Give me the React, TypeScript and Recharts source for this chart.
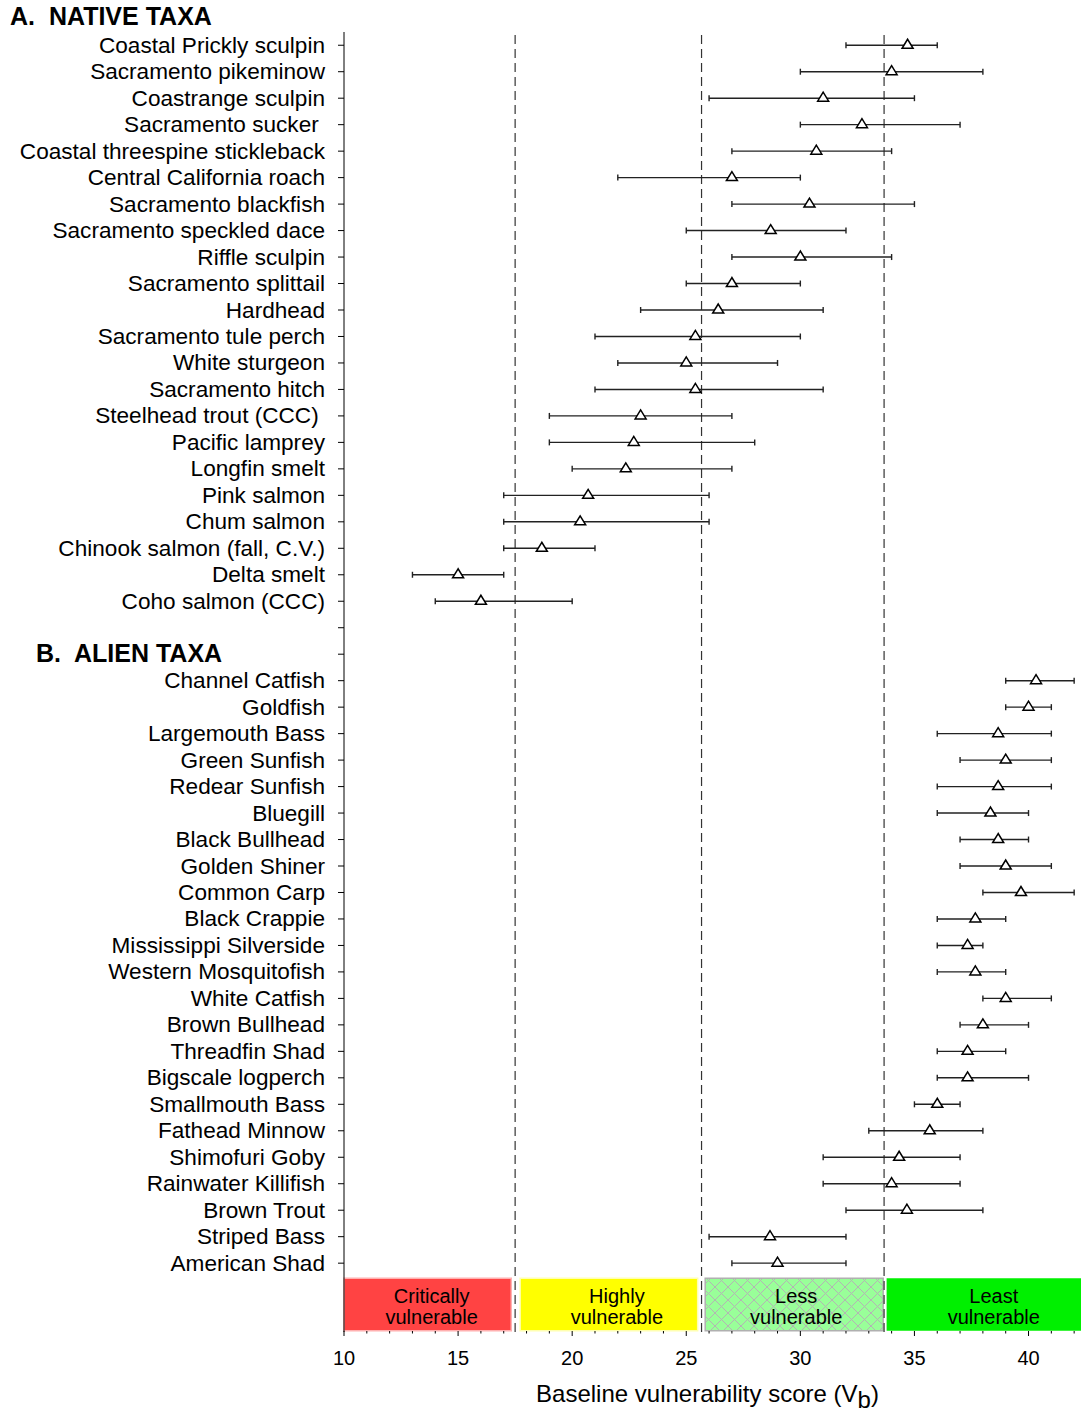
import React from "react";
import {
  ScatterChart,
  Scatter,
  XAxis,
  YAxis,
  ErrorBar,
  ReferenceLine,
  ReferenceArea,
} from "recharts";

const FONT = "'Liberation Sans', Arial, Helvetica, sans-serif";

// ---------- DATA ----------
const nativeNames = [
  "Coastal Prickly sculpin",
  "Sacramento pikeminow",
  "Coastrange sculpin",
  "Sacramento sucker\u00A0",
  "Coastal threespine stickleback",
  "Central California roach",
  "Sacramento blackfish",
  "Sacramento speckled dace",
  "Riffle sculpin",
  "Sacramento splittail",
  "Hardhead",
  "Sacramento tule perch",
  "White sturgeon",
  "Sacramento hitch",
  "Steelhead trout (CCC)\u00A0",
  "Pacific lamprey",
  "Longfin smelt",
  "Pink salmon",
  "Chum salmon",
  "Chinook salmon (fall, C.V.)",
  "Delta smelt",
  "Coho salmon (CCC)",
];
const nativeScore = [34.7, 34.0, 31.0, 32.7, 30.7, 27.0, 30.4, 28.7, 30.0, 27.0, 26.4, 25.4, 25.0, 25.4, 23.0, 22.7, 22.35, 20.7, 20.35, 18.67, 15.0, 16.0];
const nativeLow = [32, 30, 26, 30, 27, 22, 27, 25, 27, 25, 23, 21, 22, 21, 19, 19, 20, 17, 17, 17, 13, 14];
const nativeHigh = [36, 38, 35, 37, 34, 30, 35, 32, 34, 30, 31, 30, 29, 31, 27, 28, 27, 26, 26, 21, 17, 20];

const alienNames = [
  "Channel Catfish",
  "Goldfish",
  "Largemouth Bass",
  "Green Sunfish",
  "Redear Sunfish",
  "Bluegill",
  "Black Bullhead",
  "Golden Shiner",
  "Common Carp",
  "Black Crappie",
  "Mississippi Silverside",
  "Western Mosquitofish",
  "White Catfish",
  "Brown Bullhead",
  "Threadfin Shad",
  "Bigscale logperch",
  "Smallmouth Bass",
  "Fathead Minnow",
  "Shimofuri Goby",
  "Rainwater Killifish",
  "Brown Trout",
  "Striped Bass",
  "American Shad",
];
const alienScore = [40.33, 40.0, 38.67, 39.0, 38.67, 38.33, 38.67, 39.0, 39.67, 37.67, 37.33, 37.67, 39.0, 38.0, 37.33, 37.33, 36.0, 35.67, 34.33, 34.0, 34.67, 28.67, 29.0];
const alienLow = [39, 39, 36, 37, 36, 36, 37, 37, 38, 36, 36, 36, 38, 37, 36, 36, 35, 33, 31, 31, 32, 26, 27];
const alienHigh = [42, 41, 41, 41, 41, 40, 40, 41, 42, 39, 38, 39, 41, 40, 39, 40, 37, 38, 37, 37, 38, 32, 32];

const headerNative = "A.\u00A0 NATIVE TAXA";
const headerAlien = "B.\u00A0 ALIEN TAXA";

const thresholds = [17.5, 25.67, 33.67];
const bandStart = [10, 17.72, 25.83, 33.78];
const bandEnd = [17.33, 25.5, 33.63, 42.3];
const bandFill = ["#FF4343", "#FFFF00", "url(#hatchGreen)", "#00F000"];
const bandStroke = ["#FFB0B0", "#FFFFB0", "#B0B0B0", "none"];
const bandLine1 = ["Critically", "Highly", "Less", "Least"];
const bandLine2 = ["vulnerable", "vulnerable", "vulnerable", "vulnerable"];
const bandLabelDx = [4, 8, 2, 10];

const xMajorTicks = [10, 15, 20, 25, 30, 35, 40];
const X_MIN = 10;
const X_MAX = 42.3;

// ---------- derived ----------
const alienOffset = nativeNames.length + 2; // blank row + header row
const headerRow = nativeNames.length + 1;
const yLabels: string[] = [...nativeNames, "", headerAlien, ...alienNames];
const yTicks = yLabels.map((_, i) => i);
const xTicks: number[] = [];
for (let v = X_MIN; v <= 42; v++) xTicks.push(v);

const points = [
  ...nativeNames.map((n, i) => ({
    name: n,
    row: i,
    score: nativeScore[i],
    err: [nativeScore[i] - nativeLow[i], nativeHigh[i] - nativeScore[i]],
  })),
  ...alienNames.map((n, i) => ({
    name: n,
    row: alienOffset + i,
    score: alienScore[i],
    err: [alienScore[i] - alienLow[i], alienHigh[i] - alienScore[i]],
  })),
];

// ---------- renderers ----------
const YTick = (props: any) => {
  const { x, y, payload } = props;
  const idx = payload.value;
  if (idx === headerRow) {
    return (
      <text x={36} y={y + 8} fontSize={25} fontWeight="bold" fontFamily={FONT} fill="#000">
        {yLabels[idx]}
      </text>
    );
  }
  return (
    <text x={x} y={y + 7.5} textAnchor="end" fontSize={22.6} fontFamily={FONT} fill="#000">
      {yLabels[idx]}
    </text>
  );
};

const XTick = (props: any) => {
  const { x, y, payload } = props;
  const v = payload.value;
  const major = xMajorTicks.includes(v);
  return (
    <g>
      <line x1={x} x2={x} y1={y - 1} y2={y + (major ? 4 : 1.5)} stroke="#000" strokeWidth={1} />
      {major && (
        <text x={x} y={y + 33} textAnchor="middle" fontSize={20} fontFamily={FONT} fill="#000">
          {v}
        </text>
      )}
    </g>
  );
};

const Triangle = (props: any) => {
  const { cx, cy } = props;
  if (cx == null || cy == null) return null;
  return (
    <polygon
      points={`${cx},${cy - 6} ${cx - 5.5},${cy + 3} ${cx + 5.5},${cy + 3}`}
      fill="#fff"
      stroke="#000"
      strokeWidth={1.5}
      strokeLinejoin="miter"
    />
  );
};

const makeBandLabel = (i: number) => (props: any) => {
  const vb = props.viewBox || {};
  const cx = vb.x + vb.width / 2 + bandLabelDx[i];
  const top = vb.y;
  return (
    <text textAnchor="middle" fontSize={20} fontFamily={FONT} fill="#000">
      <tspan x={cx} y={top + 25}>{bandLine1[i]}</tspan>
      <tspan x={cx} y={top + 46}>{bandLine2[i]}</tspan>
    </text>
  );
};

const XLabel = (props: any) => {
  const vb = props.viewBox || {};
  const cx = vb.x + vb.width / 2 - 5;
  const y = vb.y + 70;
  return (
    <text x={cx} y={y} textAnchor="middle" fontSize={24} fontFamily={FONT} fill="#000">
      Baseline vulnerability score (V
      <tspan dy={6}>b</tspan>
      <tspan dy={-6}>)</tspan>
    </text>
  );
};

export default function App() {
  return (
    <div style={{ position: "absolute", left: 0, top: 0, width: 1081, height: 1412, background: "#fff" }}>
      <ScatterChart
        width={1081}
        height={1412}
        margin={{ top: 32, right: 0, bottom: 20, left: 0 }}
      >
        <defs>
          <pattern id="hatchGreen" width="13" height="13" patternUnits="userSpaceOnUse">
            <rect x="0" y="0" width="13" height="13" fill="#99FF99" />
            <path d="M0,0 L13,13 M13,0 L0,13" stroke="#B4B4B4" strokeWidth="1" />
          </pattern>
        </defs>
        <XAxis
          type="number"
          dataKey="score"
          domain={[X_MIN, X_MAX]}
          allowDataOverflow
          ticks={xTicks}
          interval={0}
          tickLine={false}
          axisLine={false}
          tickSize={0}
          tickMargin={0}
          tick={<XTick />}
          height={60}
          label={{ content: <XLabel /> }}
        />
        <YAxis
          type="number"
          dataKey="row"
          domain={[-0.5, 48.6]}
          reversed
          allowDataOverflow
          ticks={yTicks}
          interval={0}
          width={344}
          tickSize={6}
          tickMargin={13}
          tick={<YTick />}
          axisLine={{ stroke: "#000", strokeWidth: 1 }}
          tickLine={{ stroke: "#000", strokeWidth: 1 }}
        />
        {bandStart.map((s, i) => (
          <ReferenceArea
            key={"band" + i}
            x1={s}
            x2={bandEnd[i]}
            y1={46.57}
            y2={48.55}
            fill={bandFill[i]}
            fillOpacity={1}
            stroke={bandStroke[i]}
            strokeWidth={1.5}
            ifOverflow="visible"
            label={{ content: makeBandLabel(i) }}
          />
        ))}
        {thresholds.map((t) => (
          <ReferenceLine
            key={"thr" + t}
            x={t}
            stroke="#333"
            strokeWidth={1.2}
            strokeDasharray="9 5"
          />
        ))}
        <Scatter data={points} shape={<Triangle />} isAnimationActive={false}>
          <ErrorBar dataKey="err" direction="x" width={3} stroke="#222" strokeWidth={1.4} />
        </Scatter>
      </ScatterChart>
      <svg
        width={1081}
        height={40}
        style={{ position: "absolute", left: 0, top: 0, pointerEvents: "none" }}
      >
        <text x={10} y={25} fontSize={25} fontWeight="bold" fontFamily={FONT} fill="#000">
          {headerNative}
        </text>
      </svg>
    </div>
  );
}
